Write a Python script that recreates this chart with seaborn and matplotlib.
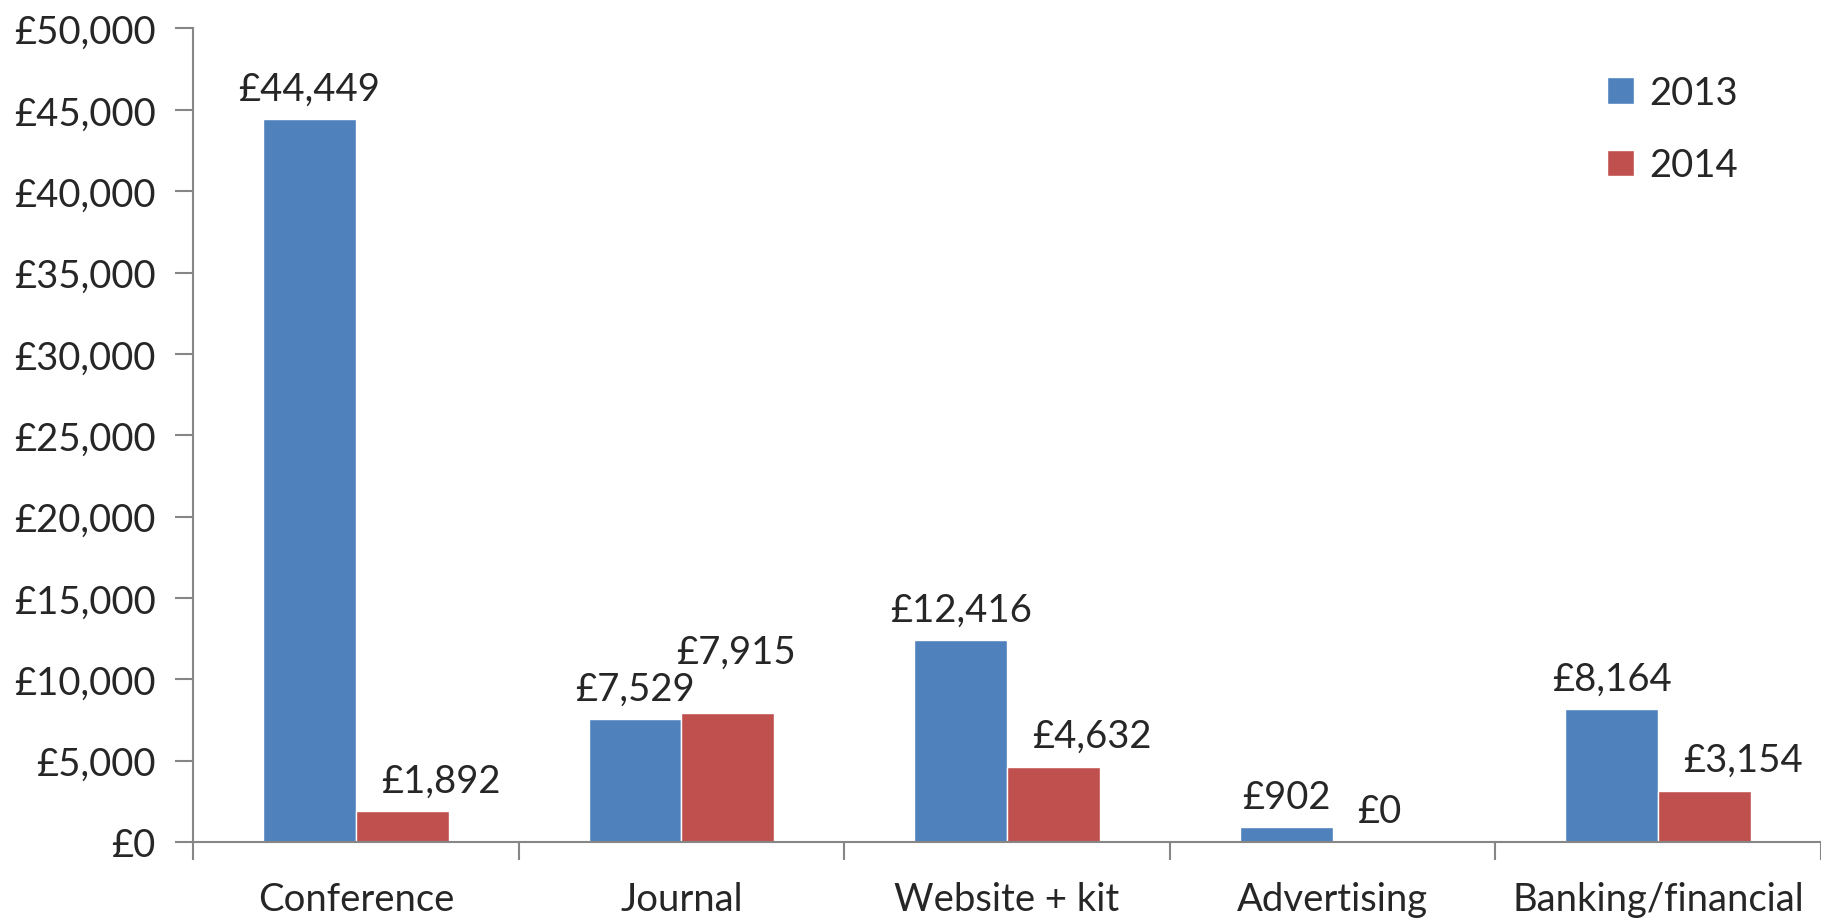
import matplotlib
matplotlib.use("Agg")
import matplotlib.pyplot as plt
import seaborn as sns
import pandas as pd
from matplotlib.ticker import FixedLocator, FuncFormatter

categories = ["Conference", "Journal", "Website + kit", "Advertising", "Banking/financial"]
years = ["2013", "2014"]
values_2013 = [44449, 7529, 12416, 902, 8164]
values_2014 = [1892, 7915, 4632, 0, 3154]
y_ticks = [0, 5000, 10000, 15000, 20000, 25000, 30000, 35000, 40000, 45000, 50000]
colors = ["#4F81BD", "#C0504D"]

df = pd.DataFrame({
    "category": categories * 2,
    "year": [years[0]] * len(categories) + [years[1]] * len(categories),
    "value": values_2013 + values_2014,
})

sns.set_style("white")
plt.rcParams["font.family"] = ["Lato", "DejaVu Sans"]
FS = 27.5

fig = plt.figure(figsize=(18.21, 9.2), dpi=100)
ax = fig.add_axes([0.106, 0.0837, 0.894, 0.8843])

sns.barplot(data=df, x="category", y="value", hue="year", palette=colors,
            width=0.57, ax=ax, saturation=1, legend=True, errorbar=None)

ax.set_xlim(-0.5, len(categories) - 0.5)
ax.set_ylim(0, 50000)
ax.set_xlabel("")
ax.set_ylabel("")

ax.yaxis.set_major_locator(FixedLocator(y_ticks))
ax.yaxis.set_major_formatter(FuncFormatter(lambda v, p: f"£{int(v):,}"))
ax.tick_params(axis="y", which="major", left=True, length=13, width=1.5,
               color="#868686", labelsize=FS, pad=14)
ax.set_xticks(range(len(categories)))
ax.set_xticklabels(categories)
ax.tick_params(axis="x", which="major", length=0, labelsize=FS, pad=28)
ax.set_xticks([i - 0.5 for i in range(len(categories) + 1)], minor=True)
ax.tick_params(axis="x", which="minor", bottom=True, length=13, width=1.5, color="#868686")

for s in ["top", "right"]:
    ax.spines[s].set_visible(False)
for s in ["left", "bottom"]:
    ax.spines[s].set_color("#868686")
    ax.spines[s].set_linewidth(1.5)

# value labels (2014 labels nudged right as in reference)
for hi, cont in enumerate(ax.containers):
    for ci, bar in enumerate(cont):
        v = bar.get_height()
        dx, dy = (0, 0) if hi == 0 else (28, 0)
        if hi == 1 and ci == 1:
            dx, dy = (6, 22)
        if hi == 1 and ci == 3:
            dx = 0
        ax.annotate(f"£{int(v):,}", (bar.get_x() + bar.get_width() / 2, v),
                    xytext=(dx, 9 + dy), textcoords="offset points",
                    ha="center", va="bottom", fontsize=FS)

leg = ax.legend(loc="upper right", bbox_to_anchor=(0.97, 0.985), frameon=False,
                fontsize=FS, handlelength=0.7, handleheight=0.7, labelspacing=0.95,
                handletextpad=0.4)

fig.savefig("out.png", dpi=100)
